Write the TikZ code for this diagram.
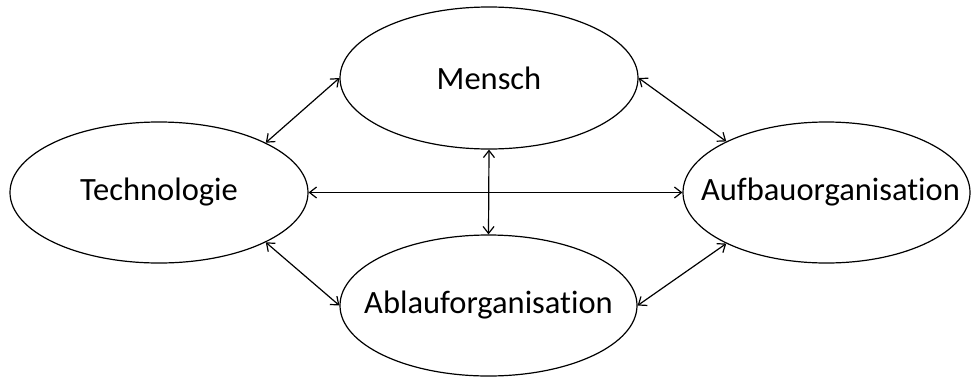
\documentclass[tikz,border=0pt]{standalone}
\usepackage{fontspec}
\setmainfont[RawFeature=-liga]{Carlito}
\usetikzlibrary{shapes.geometric,arrows.meta}
\tikzset{
  ell/.style={draw, ellipse, line width=1.2pt, inner sep=0pt},
  txt/.style={inner sep=0pt, font=\fontsize{32.5}{38}\selectfont},
  link/.style={line width=1.2pt, {Straight Barb[length=7pt,width=11pt]}-{Straight Barb[length=7pt,width=11pt]}}
}
\begin{document}
\begin{tikzpicture}[x=1pt,y=-1pt]
\useasboundingbox (0,0) rectangle (971,378);
\node[ell, minimum width=298pt, minimum height=142pt] (M) at (489,78) {};
\node[ell, minimum width=298pt, minimum height=141pt] (T) at (159,192.5) {};
\node[ell, minimum width=287pt, minimum height=141pt] (A) at (826.5,192.5) {};
\node[ell, minimum width=297pt, minimum height=141pt] (B) at (488.5,305.5) {};
\node[txt] (Mt) at (M) {Mensch};
\node[txt] (Tt) at (T) {Technologie};
\node[txt] (At) at ([xshift=4pt]A.center) {Aufbauorganisation};
\node[txt] (Bt) at (B) {Ablauforganisation};
\draw[link] (T.25) -- (M.west);
\draw[link] (T.-25) -- (B.west);
\draw[link] (M.east) -- (A.153);
\draw[link] (B.east) -- (A.-153);
\draw[link] (T.east) -- (A.west);
\draw[link] (M.south) -- (B.north);
\end{tikzpicture}
\end{document}
